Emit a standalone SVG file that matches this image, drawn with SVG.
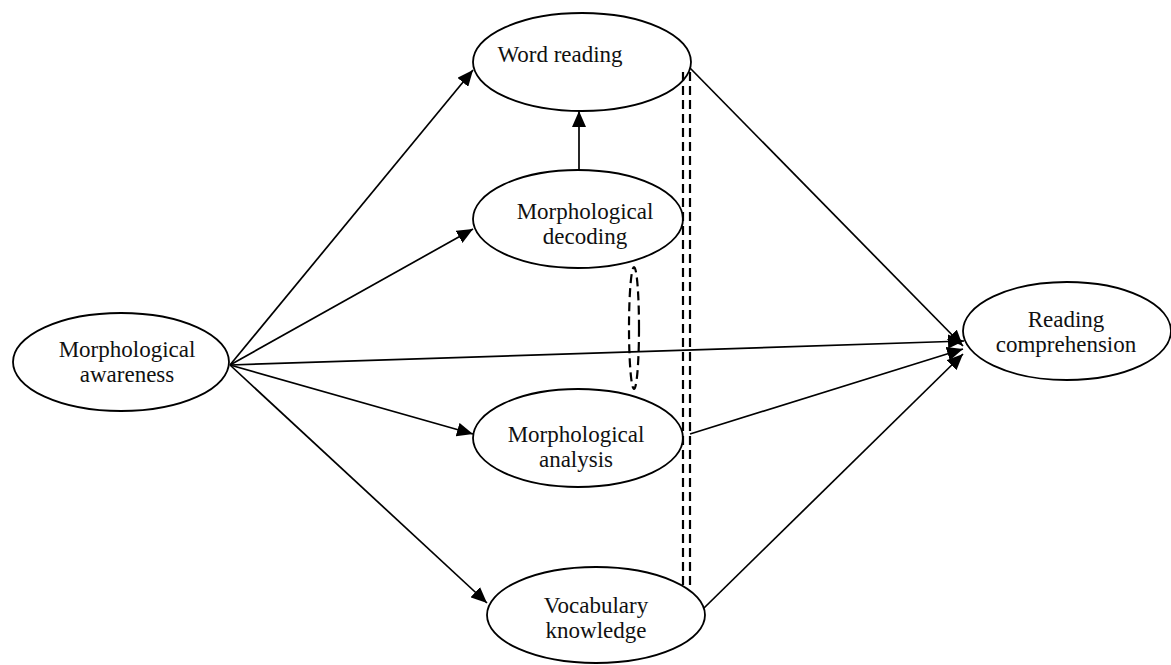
<svg xmlns="http://www.w3.org/2000/svg" width="1171" height="665" viewBox="0 0 1171 665">
<defs>
<marker id="ah" markerUnits="userSpaceOnUse" markerWidth="18" markerHeight="14" refX="16" refY="7" orient="auto">
<path d="M0,0 L16,7 L0,14 Z" fill="#000"/>
</marker>
<style>
.node{fill:#fff;stroke:#000;stroke-width:1.8}
.lbl{font-family:"Liberation Serif","Times New Roman",serif;font-size:23px;fill:#111;text-anchor:middle}
.edge{stroke:#000;stroke-width:1.7;fill:none;marker-end:url(#ah)}
.dash{stroke:#000;stroke-width:2.2;fill:none;stroke-dasharray:9 5}
</style>
</defs>
<rect width="1171" height="665" fill="#fff"/>
<g id="connectors">
<line class="edge" x1="230" y1="365" x2="473" y2="70"/>
<line class="edge" x1="230" y1="365" x2="473" y2="229"/>
<line class="edge" x1="230" y1="365" x2="964" y2="341"/>
<line class="edge" x1="230" y1="365" x2="473" y2="434"/>
<line class="edge" x1="230" y1="365" x2="487" y2="603"/>
<line class="edge" x1="579" y1="170" x2="579" y2="111"/>
<line class="edge" x1="690" y1="68" x2="963" y2="346"/>
<line class="edge" x1="690" y1="434" x2="963" y2="349"/>
<line class="edge" x1="704" y1="608" x2="963" y2="354"/>
<line class="dash" x1="683" y1="72" x2="683" y2="590"/>
<line class="dash" x1="690" y1="72" x2="690" y2="590"/>
<ellipse class="dash" cx="634" cy="328" rx="5" ry="61" stroke-width="1.8" stroke-dasharray="8 4"/>
</g>
<g id="word-reading">
<ellipse class="node" cx="582" cy="62" rx="109" ry="49" fill-opacity="0"/>
<text class="lbl" x="560" y="62">Word reading</text>
</g>
<g id="morphological-decoding">
<ellipse class="node" cx="578" cy="219" rx="105" ry="49" fill-opacity="0"/>
<text class="lbl" x="585" y="219">Morphological</text>
<text class="lbl" x="585" y="244">decoding</text>
</g>
<g id="morphological-awareness">
<ellipse class="node" cx="121" cy="362" rx="108" ry="49"/>
<text class="lbl" x="127" y="357">Morphological</text>
<text class="lbl" x="127" y="382">awareness</text>
</g>
<g id="morphological-analysis">
<ellipse class="node" cx="578" cy="438" rx="105" ry="49" fill-opacity="0"/>
<text class="lbl" x="576" y="442">Morphological</text>
<text class="lbl" x="576" y="467">analysis</text>
</g>
<g id="vocabulary-knowledge">
<ellipse class="node" cx="596" cy="615" rx="109" ry="48" fill-opacity="0"/>
<text class="lbl" x="596" y="613">Vocabulary</text>
<text class="lbl" x="596" y="638">knowledge</text>
</g>
<g id="reading-comprehension">
<ellipse class="node" cx="1067" cy="331" rx="104" ry="49"/>
<text class="lbl" x="1066" y="327">Reading</text>
<text class="lbl" x="1066" y="352">comprehension</text>
</g>
</svg>
